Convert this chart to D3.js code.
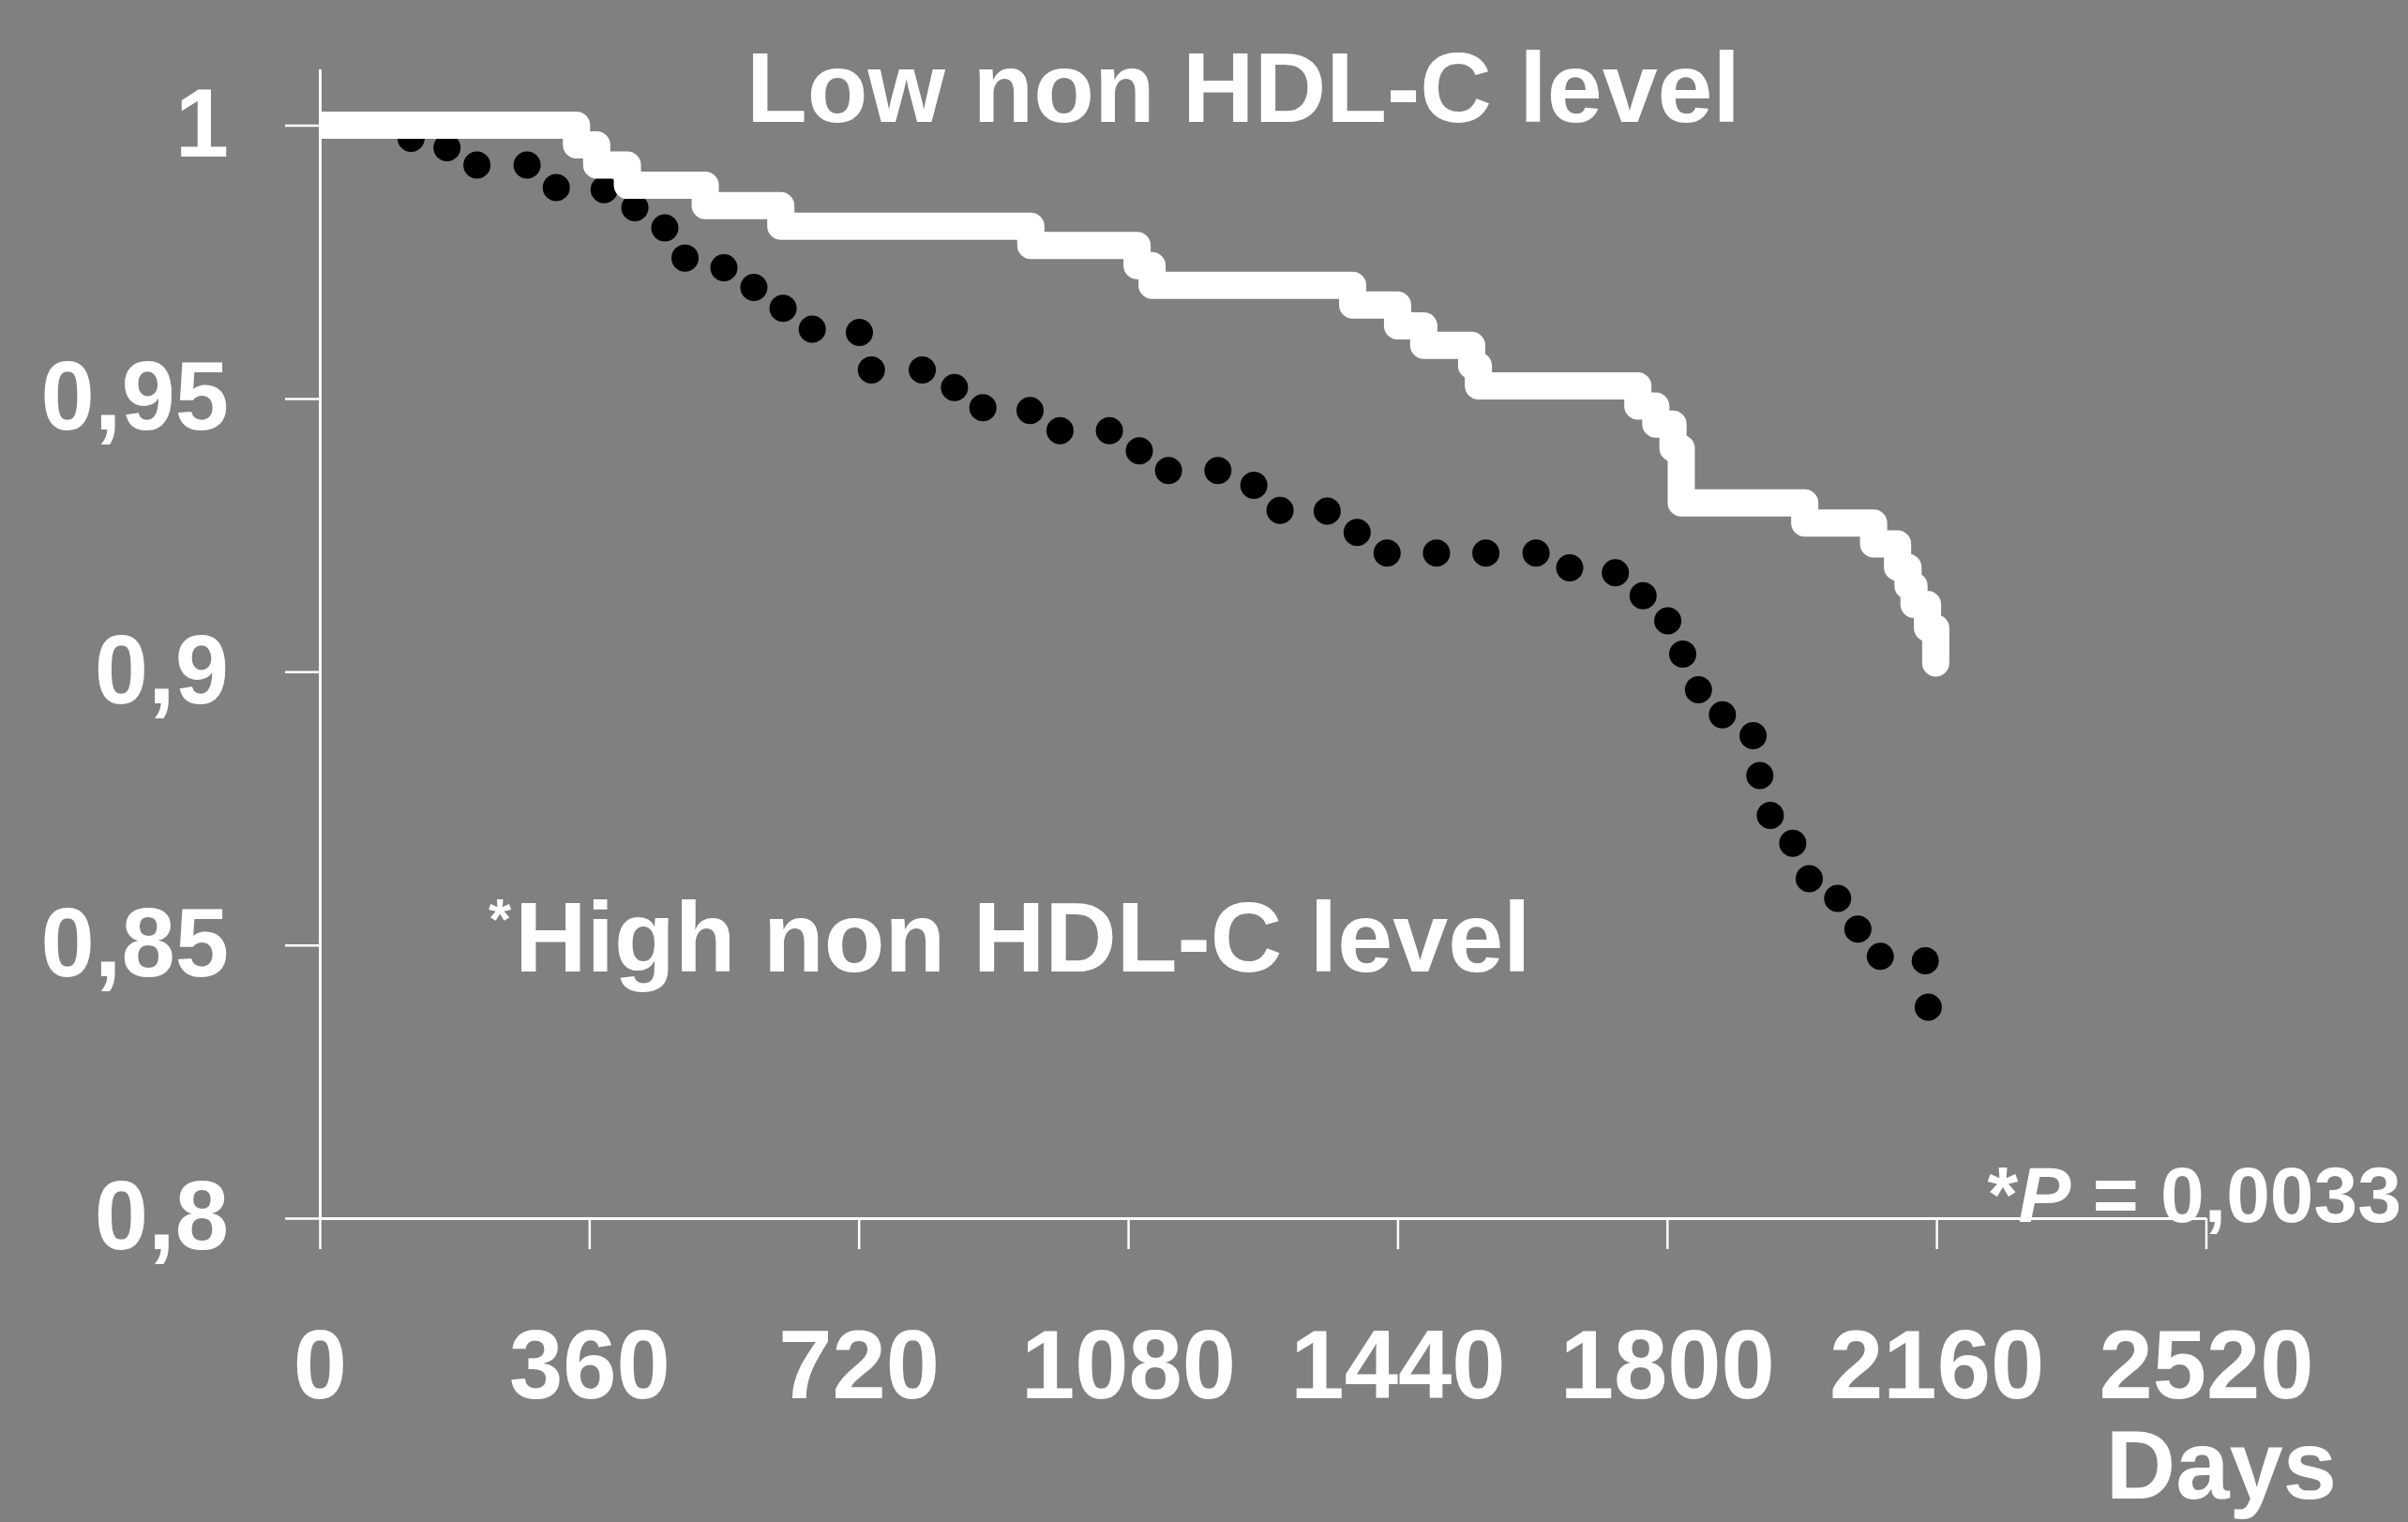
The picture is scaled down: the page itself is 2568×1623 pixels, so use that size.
<!DOCTYPE html>
<html>
<head>
<meta charset="utf-8">
<script src="https://cdnjs.cloudflare.com/ajax/libs/d3/7.8.5/d3.min.js"></script>
<style>
body { margin:0; background:#808080; }
svg { display:block; }
text { font-family:"Liberation Sans", Arial, sans-serif; font-weight:bold; fill:#ffffff; }
</style>
</head>
<body>
<svg id="km"></svg>
<script>
// Low non HDL-C level: step curve (day where the step happens, survival after it)
var lowDays = [0,343,370,411,515,616,950,1092,1112,1380,1440,1475,1539,1548,1761,1785,1808,1819,1984,2076,2108,2122,2130,2148,2159];
var lowSurv = [1,0.9964,0.9927,0.9890,0.9853,0.9815,0.9780,0.9743,0.9707,0.9671,0.9633,0.9597,0.9560,0.9523,0.9486,0.9453,0.9409,0.9309,0.9272,0.9234,0.9191,0.9157,0.9123,0.9080,0.9016];

// High non HDL-C level: dotted curve
var highDays = [122,170,210,277,316,380,421,461,488,540,580,619,658,721,737,805,848,886,949,989,1055,1095,1134,1200,1248,1283,1346,1386,1426,1492,1558,1625,1670,1731,1768,1801,1821,1842,1874,1915,1924,1938,1968,1990,2028,2055,2085,2145,2149];
var highSurv = [0.9976,0.9959,0.9927,0.9927,0.9886,0.9882,0.9849,0.9812,0.9757,0.9739,0.9703,0.9665,0.9627,0.9621,0.9552,0.9552,0.9520,0.9483,0.9478,0.9441,0.9441,0.9404,0.9368,0.9368,0.9341,0.9295,0.9294,0.9255,0.9217,0.9217,0.9217,0.9217,0.9190,0.9181,0.9139,0.9093,0.9032,0.8967,0.8921,0.8883,0.8810,0.8737,0.8686,0.8621,0.8585,0.8529,0.8479,0.8471,0.8386];

var xTicks = [0,360,720,1080,1440,1800,2160,2520];
var yTicks = [0.8,0.85,0.9,0.95,1];
var yTickLabels = ["0,8","0,85","0,9","0,95","1"];

var screen = {width:2568,height:1623};

var svg = d3.select("#km")
    .attr("width",screen.width)
    .attr("height",screen.height);

var xScale = d3.scaleLinear()
    .domain([0,2520])
    .range([341,2352.5]);

// axis line runs a little above 1
var yScale = d3.scaleLinear()
    .domain([0.8,1.0103])
    .range([1299,73.5]);

var drawAxes = function()
{
    var xAxis = d3.axisBottom(xScale)
        .tickValues(xTicks)
        .tickFormat(d3.format("d"))
        .tickSize(33)
        .tickSizeOuter(0)
        .tickPadding(86);
    var yAxis = d3.axisLeft(yScale)
        .tickValues(yTicks)
        .tickFormat(function(d,i){return yTickLabels[i];})
        .tickSize(37)
        .tickSizeOuter(0)
        .tickPadding(60);

    var gx = svg.append("g")
        .attr("transform","translate(0,"+yScale(0.8)+")")
        .call(xAxis);
    var gy = svg.append("g")
        .attr("transform","translate("+xScale(0)+",0)")
        .call(yAxis);

    [gx,gy].forEach(function(g)
    {
        g.select(".domain").attr("stroke","#ffffff").attr("stroke-width",3);
        g.selectAll(".tick line").attr("stroke","#ffffff").attr("stroke-width",2.5);
        g.selectAll(".tick text")
            .attr("fill","#ffffff")
            .style("font-size","103px");
    });
}

var drawCurves = function()
{
    svg.append("clipPath")
        .attr("id","plotclip")
        .append("rect")
        .attr("x",xScale(0))
        .attr("y",0)
        .attr("width",screen.width)
        .attr("height",screen.height);

    var dots = highDays.map(function(d,i){return {day:d,surv:highSurv[i]};});
    svg.append("g")
        .selectAll("circle")
        .data(dots)
        .enter()
        .append("circle")
        .attr("cx",function(d){return xScale(d.day);})
        .attr("cy",function(d){return yScale(d.surv);})
        .attr("r",14.5)
        .attr("fill","#000000");

    var steps = lowDays.map(function(d,i){return {day:d,surv:lowSurv[i]};});
    var line = d3.line()
        .x(function(d){return xScale(d.day);})
        .y(function(d){return yScale(d.surv);})
        .curve(d3.curveStepAfter);

    svg.append("path")
        .datum(steps)
        .attr("d",line)
        .attr("clip-path","url(#plotclip)")
        .attr("fill","none")
        .attr("stroke","#ffffff")
        .attr("stroke-width",29)
        .attr("stroke-linejoin","round")
        .attr("stroke-linecap","round");
}

var drawLabels = function()
{
    var labels = svg.append("g");

    labels.append("text")
        .text("Low non HDL-C level")
        .attr("x",796)
        .attr("y",130)
        .style("font-size","106px");

    labels.append("text")
        .text("*")
        .attr("x",521)
        .attr("y",1001)
        .style("font-size","62px");
    labels.append("text")
        .text("High non HDL-C level")
        .attr("x",549)
        .attr("y",1036)
        .style("font-size","106px");

    var p = labels.append("text")
        .attr("text-anchor","end")
        .attr("x",2561)
        .attr("y",1303)
        .style("font-size","84px");
    p.append("tspan").text("*");
    p.append("tspan").text("P").style("font-style","italic");
    p.append("tspan").text(" = 0,0033");

    labels.append("text")
        .text("Days")
        .attr("text-anchor","end")
        .attr("x",2492)
        .attr("y",1598)
        .style("font-size","103px");
}

drawCurves();
drawAxes();
drawLabels();
</script>
</body>
</html>
